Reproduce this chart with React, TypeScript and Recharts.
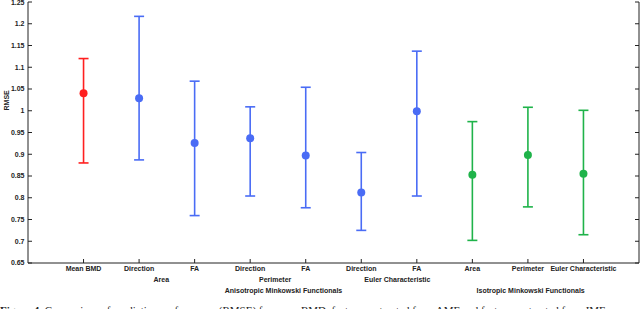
import React from 'react';
import { ComposedChart, Scatter, XAxis, YAxis, ErrorBar, Label } from 'recharts';

const categories = ['Mean BMD', 'Direction', 'FA', 'Direction', 'FA', 'Direction', 'FA', 'Area', 'Perimeter', 'Euler Characteristic'];
const meanRmse = [1.040, 1.029, 0.926, 0.937, 0.897, 0.812, 0.999, 0.853, 0.898, 0.855];
const upperRmse = [1.120, 1.217, 1.068, 1.009, 1.054, 0.904, 1.137, 0.975, 1.008, 1.001];
const lowerRmse = [0.880, 0.887, 0.759, 0.804, 0.777, 0.725, 0.804, 0.702, 0.779, 0.715];

const groupLabels = ['Area', 'Perimeter', 'Euler Characteristic'];
const groupPositions = [2.4, 4.45, 6.65];
const familyLabels = ['Anisotropic Minkowski Functionals', 'Isotropic Minkowski Functionals'];
const familyPositions = [4.6, 9.05];

const yTicks = [0.65, 0.7, 0.75, 0.8, 0.85, 0.9, 0.95, 1, 1.05, 1.1, 1.15, 1.2, 1.25];
const xTicks = [1, 2, 3, 4, 5, 6, 7, 8, 9, 10];

const seriesDefs = [
  { name: 'Mean BMD', idx: [0], color: '#ff1f1f' },
  { name: 'Anisotropic', idx: [1, 2, 3, 4, 5, 6], color: '#4a6cf5' },
  { name: 'Isotropic', idx: [7, 8, 9], color: '#1fb34a' },
];

const buildRows = (idx: number[]) =>
  idx.map((i) => ({
    x: i + 1,
    mean: meanRmse[i],
    err: [meanRmse[i] - lowerRmse[i], upperRmse[i] - meanRmse[i]],
  }));

const anchorRows = (xs: number[]) => xs.map((x) => ({ x, y: 1 }));

const tickStyle = { fill: '#222', fontSize: 7, fontWeight: 'bold', fontFamily: 'Liberation Sans, Arial, sans-serif' };
const AX = '#222';

const Dot = (color: string) => (props: any) => {
  const { cx, cy } = props;
  return <circle cx={cx} cy={cy} r={4} fill={color} stroke="none" />;
};
const NoShape = () => <g />;

export default function App() {
  return (
    <div style={{ position: 'absolute', left: 0, top: 0, width: 640, height: 309, background: '#fff', overflow: 'hidden' }}>
      <ComposedChart width={640} height={309} margin={{ top: 2, right: 0, bottom: 12, left: 0 }}>
        <XAxis
          xAxisId="a_main"
          type="number"
          dataKey="x"
          domain={[0, 11]}
          allowDataOverflow
          ticks={xTicks}
          interval={0}
          tickFormatter={(v: number) => categories[v - 1] ?? ''}
          tick={tickStyle}
          tickSize={-4}
          tickMargin={7.5}
          height={12}
          stroke={AX}
        />
        <XAxis
          xAxisId="b_group"
          type="number"
          dataKey="x"
          domain={[0, 11]}
          allowDataOverflow
          ticks={groupPositions}
          interval={0}
          tickFormatter={(v: number) => groupLabels[groupPositions.indexOf(v)] ?? ''}
          tick={tickStyle}
          tickLine={false}
          axisLine={false}
          tickSize={0}
          tickMargin={2.5}
          height={11}
        />
        <XAxis
          xAxisId="c_family"
          type="number"
          dataKey="x"
          domain={[0, 11]}
          allowDataOverflow
          ticks={familyPositions}
          interval={0}
          tickFormatter={(v: number) => familyLabels[familyPositions.indexOf(v)] ?? ''}
          tick={tickStyle}
          tickLine={false}
          axisLine={false}
          tickSize={0}
          tickMargin={2.5}
          height={11}
        />
        <XAxis
          xAxisId="d_top"
          orientation="top"
          type="number"
          dataKey="x"
          domain={[0, 11]}
          allowDataOverflow
          ticks={xTicks}
          interval={0}
          tickFormatter={() => ''}
          tickSize={-4}
          height={0}
          stroke={AX}
        />
        <YAxis
          yAxisId="left"
          type="number"
          domain={[0.65, 1.25]}
          allowDataOverflow
          ticks={yTicks}
          interval={0}
          tickFormatter={(v: number) => String(Number(v.toFixed(2)))}
          tick={tickStyle}
          tickSize={-4}
          tickMargin={7.5}
          width={28}
          stroke={AX}
        >
          <Label value="RMSE" angle={-90} position="insideLeft" offset={7} dy={-22} style={tickStyle} />
        </YAxis>
        <YAxis
          yAxisId="right"
          orientation="right"
          type="number"
          domain={[0.65, 1.25]}
          allowDataOverflow
          ticks={yTicks}
          interval={0}
          tickFormatter={() => ''}
          tickSize={-4}
          width={1}
          stroke={AX}
        />
        <Scatter data={anchorRows(groupPositions)} dataKey="y" xAxisId="b_group" yAxisId="right" shape={NoShape} isAnimationActive={false} legendType="none" />
        <Scatter data={anchorRows(familyPositions)} dataKey="y" xAxisId="c_family" yAxisId="right" shape={NoShape} isAnimationActive={false} legendType="none" />
        <Scatter data={anchorRows(xTicks)} dataKey="y" xAxisId="d_top" yAxisId="right" shape={NoShape} isAnimationActive={false} legendType="none" />
        {seriesDefs.map((s) => (
          <Scatter
            key={s.name}
            name={s.name}
            data={buildRows(s.idx)}
            dataKey="mean"
            xAxisId="a_main"
            yAxisId="left"
            fill={s.color}
            shape={Dot(s.color)}
            isAnimationActive={false}
          >
            <ErrorBar dataKey="err" direction="y" width={5} stroke={s.color} strokeWidth={1.6} isAnimationActive={false} />
          </Scatter>
        ))}
      </ComposedChart>
      <div
        style={{
          position: 'absolute',
          left: 0,
          top: 304,
          fontFamily: 'Liberation Serif, Times New Roman, serif',
          fontSize: 11,
          lineHeight: '12px',
          whiteSpace: 'nowrap',
          color: '#222',
        }}
      >
        <b>Figure 4.</b> Comparison of prediction performance (RMSE) for mean BMD, features extracted from AMF and features extracted from IMF
      </div>
    </div>
  );
}
